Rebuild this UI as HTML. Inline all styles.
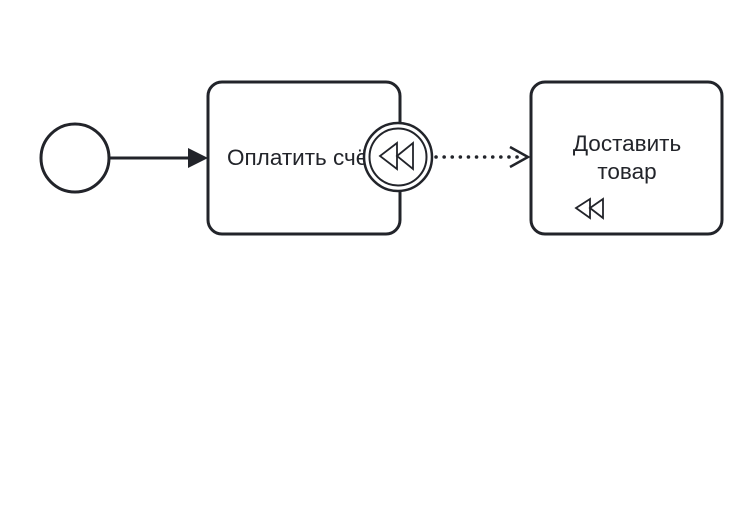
<!DOCTYPE html>
<html><head><meta charset="utf-8"><style>html,body{margin:0;padding:0;background:#fff;}</style></head>
<body>
<svg width="755" height="506" xmlns="http://www.w3.org/2000/svg" style="display:block">
<rect width="755" height="506" fill="#fff"/>
<circle cx="75" cy="158" r="34" fill="#fff" stroke="#22242a" stroke-width="3"/>
<line x1="109" y1="158" x2="192" y2="158" stroke="#22242a" stroke-width="3"/>
<polygon points="188,148 208,158 188,168" fill="#22242a"/>
<rect x="208" y="82" width="192" height="152" rx="14" fill="#fff" stroke="#22242a" stroke-width="3"/>
<text x="227" y="165" font-family="Liberation Sans, sans-serif" font-size="22.5" fill="#22242a">Оплатить счёт</text>
<rect x="531" y="82" width="191" height="152" rx="14" fill="#fff" stroke="#22242a" stroke-width="3"/>
<text x="627" y="151" text-anchor="middle" font-family="Liberation Sans, sans-serif" font-size="22.5" fill="#22242a">Доставить</text>
<text x="627" y="179" text-anchor="middle" font-family="Liberation Sans, sans-serif" font-size="22.5" fill="#22242a">товар</text>
<polygon points="576,208 590,199 590,218" fill="none" stroke="#22242a" stroke-width="1.8"/>
<polygon points="590,208 603,199 603,218" fill="none" stroke="#22242a" stroke-width="1.8"/>
<line x1="436" y1="157" x2="524" y2="157" stroke="#22242a" stroke-width="3.5" stroke-dasharray="0.1,8" stroke-linecap="round"/>
<polyline points="510,147 528,157 510,167" fill="none" stroke="#22242a" stroke-width="2.5"/>
<circle cx="398" cy="157" r="34" fill="#fff" stroke="#22242a" stroke-width="2.5"/>
<circle cx="398" cy="157" r="28.5" fill="#fff" stroke="#22242a" stroke-width="2"/>
<polygon points="380,156 397,143 397,169" fill="none" stroke="#22242a" stroke-width="1.8"/>
<polygon points="397,156 413,143 413,169" fill="none" stroke="#22242a" stroke-width="1.8"/>
</svg>
</body></html>
